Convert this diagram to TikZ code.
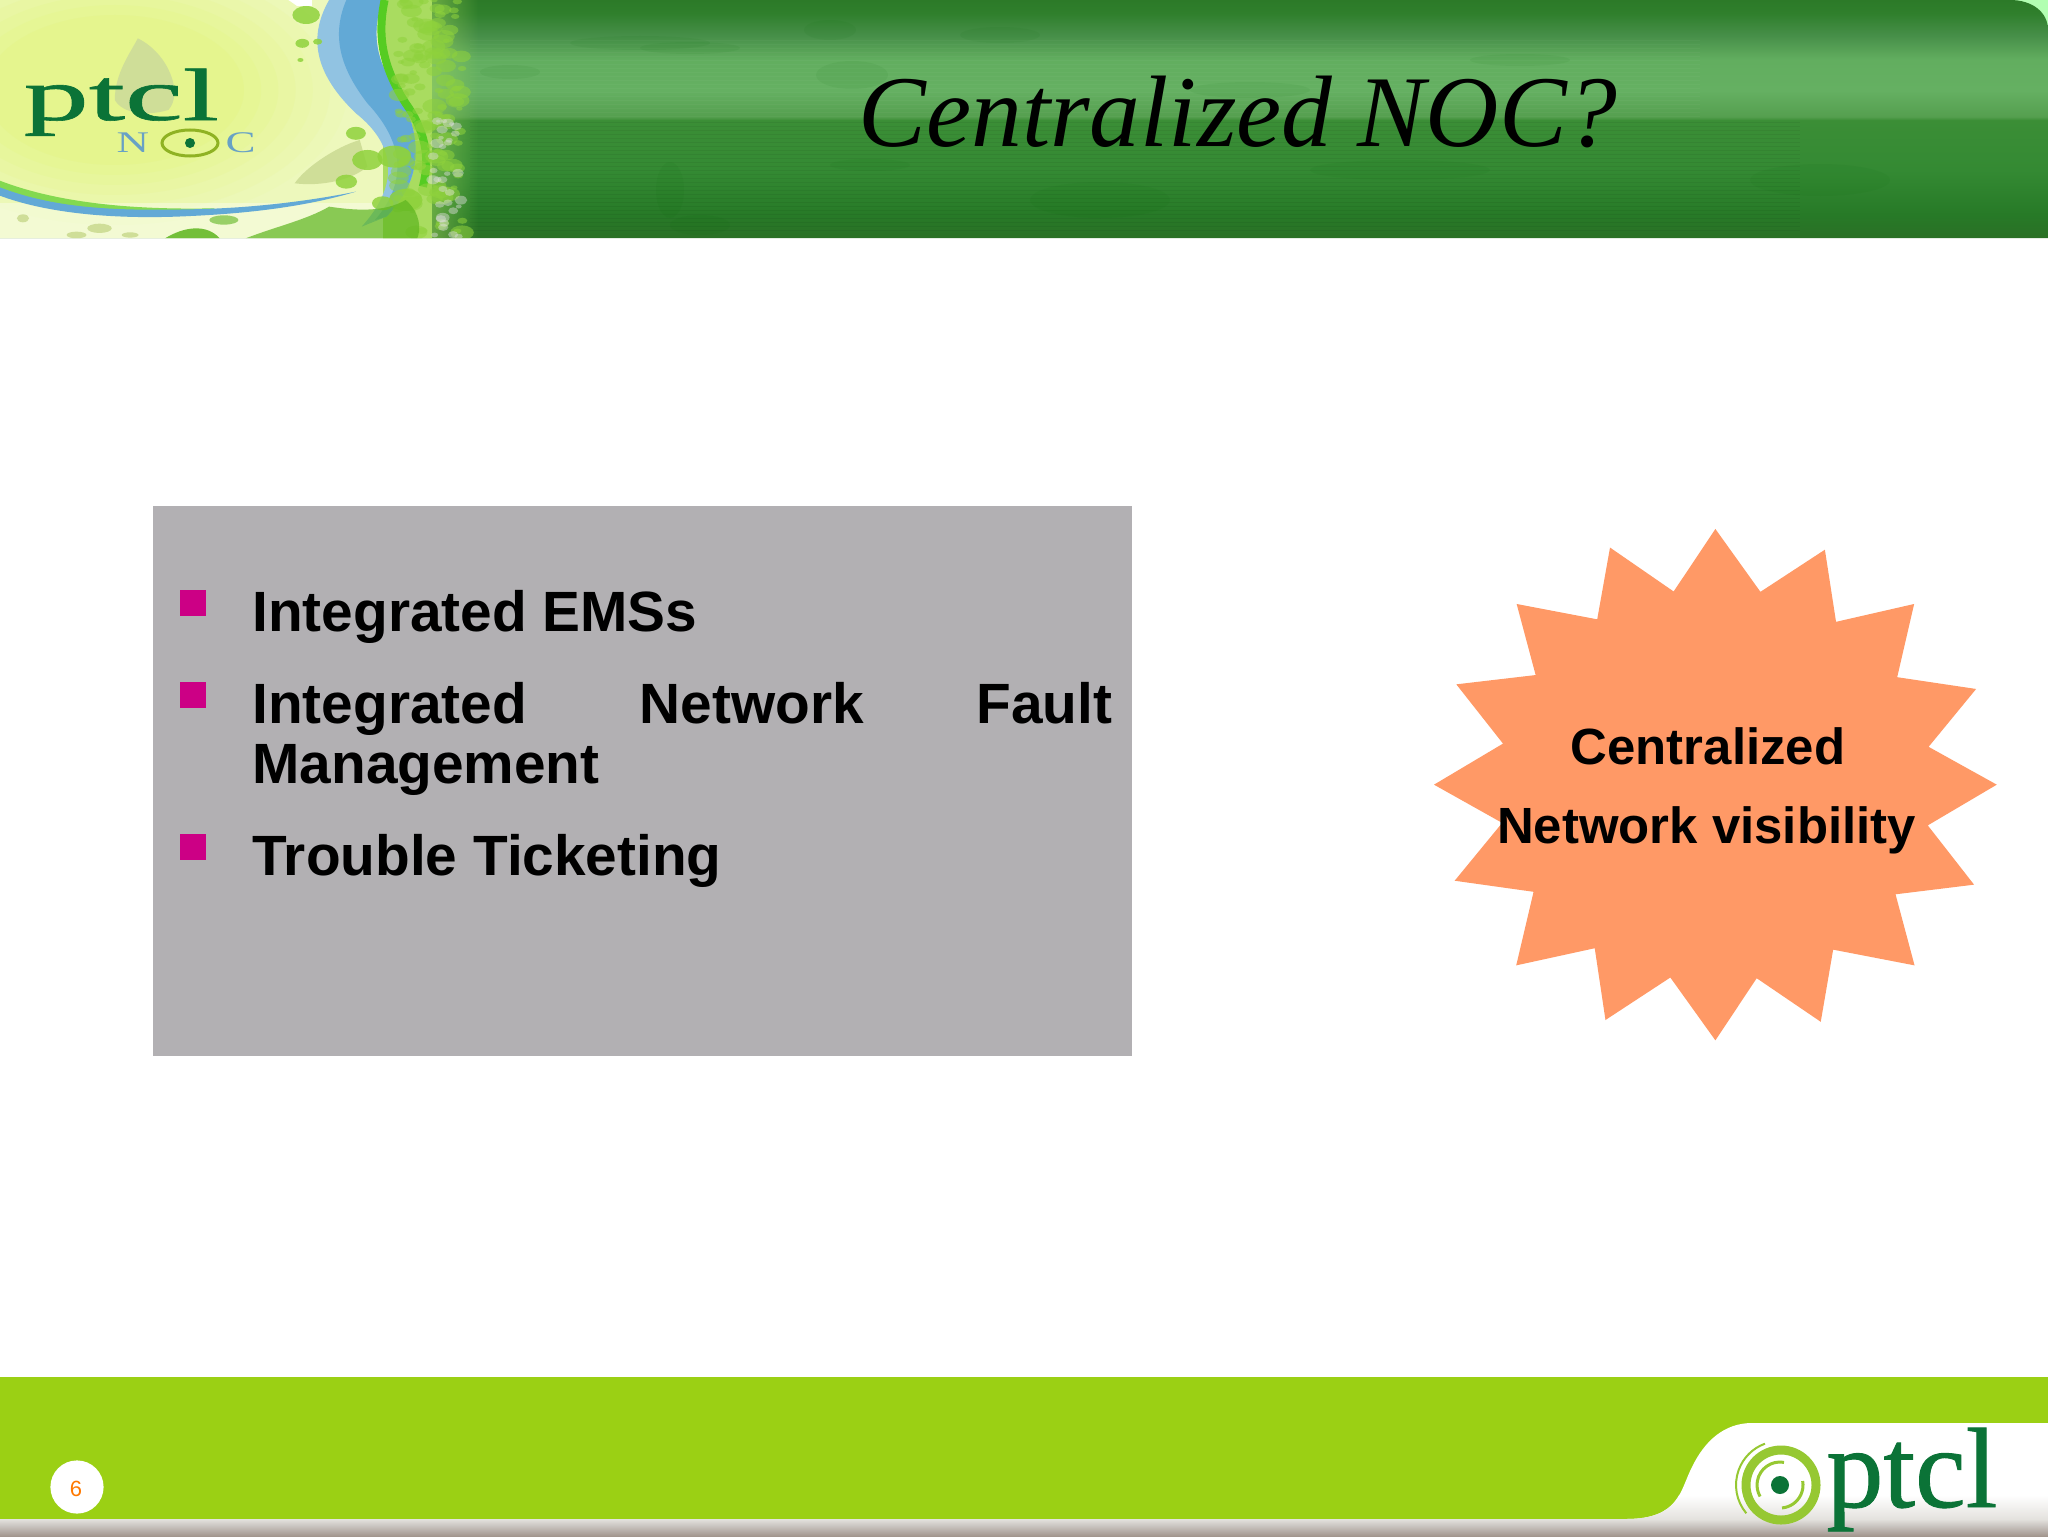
\documentclass[tikz,border=0pt]{standalone}
\usepackage{fontspec}
\setmainfont{Liberation Sans}
\newfontfamily\serifface{Liberation Serif}
\newfontfamily\heavyserif[FakeBold=0.8]{Liberation Serif}
\usetikzlibrary{fadings,shadings}
\definecolor{boxgray}{HTML}{B2B0B3}
\definecolor{bulletpink}{HTML}{CC0085}
\definecolor{starorange}{HTML}{FF9966}
\definecolor{footgreen}{HTML}{9BD014}
\definecolor{logogreen}{HTML}{0B7337}
\definecolor{ringgreen}{HTML}{96C832}
\definecolor{artbase}{HTML}{EDF8BC}
\definecolor{artglow}{HTML}{E5F58E}
\definecolor{artblue}{HTML}{62A9D6}
\definecolor{artlime}{HTML}{55CC22}
\definecolor{leafpale}{HTML}{CFDE98}
\definecolor{leafmid}{HTML}{8FD23C}
\definecolor{leafdark}{HTML}{5DB51F}
\definecolor{fringe}{HTML}{A9DC60}
\definecolor{ha}{HTML}{2A7025}
\definecolor{hb}{HTML}{277A27}
\definecolor{hc}{HTML}{348A33}
\definecolor{hd}{HTML}{3B8E36}
\definecolor{he}{HTML}{559F4F}
\definecolor{hf}{HTML}{65B062}
\definecolor{hg}{HTML}{62AE5F}
\definecolor{hh}{HTML}{478F49}
\definecolor{hi}{HTML}{2F7F2C}
\definecolor{hj}{HTML}{2C7A28}
\definecolor{fa}{HTML}{A2968E}
\definecolor{fb}{HTML}{C9C4C0}
\definecolor{fc}{HTML}{E4E2DE}
% the path's box covers 25bp to 75bp of a declared shading
\pgfdeclareverticalshading{headshade}{100bp}{
  color(0bp)=(ha);
  color(25bp)=(ha);
  color(30bp)=(hb);
  color(39.25bp)=(hc);
  color(49.75bp)=(hd);
  color(50.5bp)=(he);
  color(56bp)=(hf);
  color(62.5bp)=(hg);
  color(67.5bp)=(hh);
  color(72.25bp)=(hi);
  color(75bp)=(hj);
  color(100bp)=(hj)}
\pgfdeclareverticalshading{footband}{100bp}{
  color(0bp)=(fa);
  color(25bp)=(fa);
  color(55bp)=(fb);
  color(75bp)=(fc);
  color(100bp)=(fc)}
\tikzset{
  pxgrid/.style={x=0.5pt,y=-0.5pt},
  bodytext/.style={anchor=base west,font=\fontsize{28.4}{30}\selectfont\bfseries,align=left,inner sep=0pt,text=black},
  bulletsq/.style={fill=bulletpink},
  startext/.style={anchor=base,font=\fontsize{25.45}{30}\selectfont\bfseries,inner sep=0pt,text=black},
  blob/.style={fill=leafmid,opacity=.55},
  smudge/.style={fill=black!60!green,opacity=.06}
}
\begin{document}
\begin{tikzpicture}[pxgrid]
\useasboundingbox (0,0) rectangle (2048,1536);
\fill[white] (0,0) rectangle (2048,1536);
% header band
\fill[green!30!white] (1990,0) rectangle (2048,40);
\begin{scope}
\clip (0,0) -- (2010,0) .. controls (2032,0) and (2048,12) .. (2048,30) -- (2048,238) -- (0,238) -- cycle;
\shade[shading=headshade] (0,0) rectangle (2048,238);
\foreach \sy in {122,126,...,230}
  \fill[black,opacity=.05] (470,\sy) rectangle (1800,\sy+1.2);
\foreach \sy in {40,44,...,116}
  \fill[white,opacity=.03] (470,\sy) rectangle (1700,\sy+1.2);
\foreach \sx/\sy/\srx/\sry in {640/43/70/7,690/48/50/6,852/75/36/14,830/30/26/10,510/72/30/7,670/190/14/28,700/225/30/10,870/165/40/6,1000/35/40/8,1100/200/70/18,1250/90/60/8,1400/170/90/10,1520/60/50/6,1820/180/70/16}
  \fill[smudge] (\sx,\sy) ellipse[x radius=\srx,y radius=\sry];
% left artwork, coordinates read from the enlarged crop
\begin{scope}[xscale=0.3827,yscale=0.3333]
  \fill[artbase] (0,0) rectangle (1060,716);
  \fill[fringe,path fading=east] (1000,0) rectangle (1250,716);
  \fill[fringe] (1000,0) rectangle (1130,716);
  \fill[white] (690,0) rectangle (815,18);
  \foreach \t/\mixv in {1.35/10,1.25/25,1.15/40,1.05/55,0.95/70,0.85/85,0.75/100}
    \fill[artglow!\mixv!artbase] (300,270) ellipse[x radius=450*\t,y radius=300*\t];
  \fill[white,opacity=.35] (0,610) rectangle (1000,716);
  \fill[leafpale] (360,115) .. controls (440,160) and (480,280) .. (440,330) .. controls (380,350) and (320,340) .. (300,300) .. controls (300,220) and (340,160) .. (360,115) -- cycle;
  \fill[leafpale] (940,420) .. controls (880,440) and (800,500) .. (770,550) .. controls (840,560) and (920,540) .. (960,500) -- cycle;
  % vertical blue ribbon
  \fill[artblue!70!white] (860,0) .. controls (800,120) and (830,230) .. (930,340) .. controls (1040,440) and (1040,560) .. (945,680) -- (1010,650) .. controls (1120,520) and (1100,380) .. (1020,240) .. controls (970,150) and (980,60) .. (1000,0) -- cycle;
  \fill[artblue] (905,0) .. controls (860,120) and (900,220) .. (960,310) .. controls (1050,420) and (1070,540) .. (980,660) -- (1010,650) .. controls (1120,520) and (1100,380) .. (1020,240) .. controls (970,150) and (980,60) .. (1000,0) -- cycle;
  % lime swoosh
  \draw[artlime,line width=4pt] (1005,0) .. controls (985,110) and (1000,200) .. (1060,310) .. controls (1110,390) and (1125,470) .. (1105,560);
  % horizontal ribbon
  \fill[artlime!70!artbase] (-5,540) .. controls (150,610) and (350,630) .. (560,625) -- (560,632) .. controls (300,640) and (120,620) .. (-5,565) -- cycle;
  \fill[artblue] (-5,560) .. controls (150,630) and (320,632) .. (500,628) .. controls (650,625) and (800,605) .. (930,575) .. controls (800,620) and (650,640) .. (500,648) .. controls (300,660) and (120,640) .. (-5,585) -- cycle;
  % foliage
  \pgfmathsetseed{11}
  \foreach \n in {1,...,130}{
    \pgfmathsetmacro{\bx}{1040+rnd*170}
    \pgfmathsetmacro{\by}{rnd*716}
    \pgfmathsetmacro{\br}{8+rnd*24}
    \fill[blob] (\bx,\by) ellipse[x radius=\br,y radius=\br*.7];
  }
  \foreach \n in {1,...,34}{
    \pgfmathsetmacro{\bx}{1130+rnd*80}
    \pgfmathsetmacro{\by}{360+rnd*350}
    \pgfmathsetmacro{\br}{6+rnd*12}
    \fill[white!75!gray,opacity=.45] (\bx,\by) ellipse[x radius=\br,y radius=\br*.8];
  }
  \foreach \bx/\by/\br in {800/45/36,790/130/18,830/125/12,785/180/8,930/400/26,960/480/40,905/545/28,1030/470/44,1060/600/44,1000/610/28}
    \fill[leafmid,opacity=.85] (\bx,\by) ellipse[x radius=\br,y radius=\br*.75];
  \fill[leafdark,opacity=.85] (430,716) .. controls (480,680) and (540,670) .. (575,716) -- cycle;
  \fill[leafdark,opacity=.7] (640,716) .. controls (720,680) and (800,660) .. (860,620) .. controls (920,630) and (1000,640) .. (1060,600) .. controls (1100,640) and (1100,690) .. (1090,716) -- cycle;
  \fill[leafdark,opacity=.6] (585,660) ellipse[x radius=38,y radius=14];
  \foreach \bx/\by/\bw/\bh in {260/685/32/14,200/705/26/10,340/705/22/8,60/655/16/12}
    \fill[leafpale] (\bx,\by) ellipse[x radius=\bw,y radius=\bh];
\end{scope}
\end{scope}
% upper logo
\node[anchor=base west,inner sep=0pt,text depth=0pt,text=logogreen,font=\fontsize{37}{40}\heavyserif\selectfont,xscale=1.76,transform shape] (toplogo) at (23,120) {ptcl};
\node[anchor=base west,inner sep=0pt,text=artblue!80!gray,font=\fontsize{15}{15}\serifface\selectfont,xscale=1.5,transform shape] (topn) at (116,152) {N};
\node[anchor=base west,inner sep=0pt,text=artblue!80!gray,font=\fontsize{15}{15}\serifface\selectfont,xscale=1.5,transform shape] (topc) at (225,152) {C};
\draw[draw=ringgreen!70!olive,line width=1.5pt] (190,143) ellipse[x radius=28,y radius=13];
\fill[logogreen] (190,143) circle[radius=5];
% title
\node[anchor=base,inner sep=0pt,text=black,font=\fontsize{50.8}{53}\serifface\itshape\selectfont] (title) at (1238,146) {Centralized NOC?};
% grey panel
\fill[boxgray] (153,506) rectangle (1132,1056);
\fill[bulletsq] (180,590) rectangle (206,616);
\fill[bulletsq] (180,682) rectangle (206,708);
\fill[bulletsq] (180,834) rectangle (206,860);
\node[bodytext] (itemone) at (252,631) {Integrated EMSs};
\node[bodytext,text width=430pt] (itemtwo) at (252,723) {Integrated\hfill Network\hfill Fault\\Management};
\node[bodytext] (itemthree) at (252,875) {Trouble Ticketing};
% star
\fill[starorange,shift={(1400.1,499.7)},xscale=0.4132,yscale=0.3571]
 (763,82)--(872,258)--(1028,140)--(1055,342)--(1244,292)--(1203,497)--(1394,530)--(1279,692)--(1444,798)--(1277,912)--(1389,1078)--(1199,1105)--(1245,1304)--(1048,1260)--(1018,1462)--(863,1340)--(763,1514)--(654,1338)--(497,1457)--(471,1256)--(281,1304)--(323,1098)--(132,1067)--(247,905)--(82,798)--(249,683)--(136,517)--(328,491)--(282,292)--(477,335)--(508,134)--(662,257)--cycle;
\node[startext] (starone) at (1708,764.5) {Centralized};
\node[startext] (startwo) at (1706.5,843.5) {Network visibility};
% footer
\fill[footgreen] (0,1377) rectangle (2048,1519);
\fill[white] (1626,1519) .. controls (1680,1519) and (1680,1490) .. (1692,1467) .. controls (1705,1440) and (1725,1423) .. (1752,1423) -- (2048,1423) -- (2048,1519) -- cycle;
\begin{scope}
\clip (1626,1519) .. controls (1680,1519) and (1680,1490) .. (1692,1467) .. controls (1705,1440) and (1725,1423) .. (1752,1423) -- (2048,1423) -- (2048,1519) -- cycle;
\shade[top color=white,bottom color=fc] (1600,1495) rectangle (2048,1519);
\end{scope}
\shade[shading=footband] (0,1519) rectangle (2048,1536);
\fill[white] (77,1487) circle[radius=26.6];
\node[anchor=base,inner sep=0pt,text=orange!95!red,font=\fontsize{11}{12}\selectfont] (pagenum) at (76,1496) {6};
% lower logo
\draw[ringgreen,line width=4.5pt] (1781,1485) circle[radius=35];
\draw[ringgreen,line width=1pt] (1780,1485) ++(140:44) arc[start angle=140,end angle=250,radius=44];
\draw[ringgreen,line width=1.5pt] (1780,1485) ++(-80:23) arc[start angle=-80,end angle=-210,radius=23];
\draw[ringgreen,line width=1.5pt] (1780,1485) ++(85:23) arc[start angle=85,end angle=-10,radius=23];
\fill[logogreen] (1780,1485) circle[radius=9];
\node[anchor=base west,inner sep=0pt,text=logogreen,font=\fontsize{57}{57}\heavyserif\selectfont] (botlogo) at (1826,1507) {ptcl};
\end{tikzpicture}
\end{document}
